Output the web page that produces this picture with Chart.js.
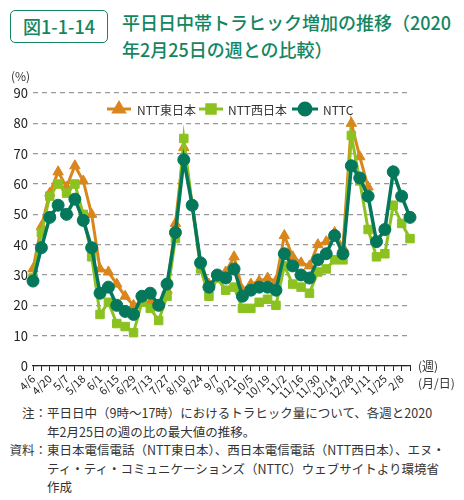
<!DOCTYPE html>
<html>
<head>
<meta charset="utf-8">
<script src="https://cdn.jsdelivr.net/npm/chart.js@4"></script>
<style>
  body { margin: 0; width: 464px; height: 500px; position: relative; background: #fff;
         font-family: "Noto Sans CJK JP", "Noto Sans", sans-serif; color: #333; overflow: hidden; }
  .fig { position: absolute; left: 10px; top: 10px; width: 96px; height: 31px; border: 1.6px solid #14855f;
         border-radius: 5px; color: #14855f; font-size: 18px; line-height: 31px; text-align: center; font-weight: 500; }
  .title { position: absolute; left: 122px; top: 9px; color: #14855f; font-size: 18px; line-height: 27px;
           font-weight: 500; white-space: nowrap; }
  #wrap { position: absolute; left: 0; top: 60px; width: 464px; height: 338px; }
  .unit { position: absolute; font-size: 12px; color: #333; }
  .notes { position: absolute; left: 0; top: 404px; font-size: 12.5px; line-height: 18.5px; color: #333; white-space: nowrap; }
  .row { display: flex; }
  .lab { width: 47px; text-align: right; flex: none; }
</style>
</head>
<body>
<div class="fig">図1-1-14</div>
<div class="title">平日日中帯トラヒック増加の推移（2020<br>年2月25日の週との比較）</div>
<div id="wrap"><canvas id="lineChart" width="464" height="338"></canvas></div>
<div class="unit" style="left:11px;top:67px;">(%)</div>
<div class="unit" style="left:418px;top:357px;">(週)</div>
<div class="unit" style="left:418px;top:374px;">(月/日)</div>
<div class="notes">
  <div class="row"><span class="lab">注：</span><span>平日日中（9時～17時）におけるトラヒック量について、各週と2020<br>年2月25日の週の比の最大値の推移。</span></div>
  <div class="row"><span class="lab">資料：</span><span>東日本電信電話（NTT東日本）、西日本電信電話（NTT西日本）、エヌ・<br>ティ・ティ・コミュニケーションズ（NTTC）ウェブサイトより環境省<br>作成</span></div>
</div>
<script>
const weeks = [
  '4/6', '4/13', '4/20', '4/27', '5/7', '5/11', '5/18', '5/25', '6/1', '6/8',
  '6/15', '6/22', '6/29', '7/6', '7/13', '7/20', '7/27', '8/3', '8/10', '8/17',
  '8/24', '8/31', '9/7', '9/14', '9/21', '9/28', '10/5', '10/12', '10/19', '10/26',
  '11/2', '11/9', '11/16', '11/23', '11/30', '12/7', '12/14', '12/21', '12/28', '1/4',
  '1/11', '1/18', '1/25', '2/1', '2/8', '2/15'
];
const nttEast = [
  32, 46, 57, 64, 59, 66, 61, 50, 32, 31,
  27, 23, 20, 21, 21, 20, 25, 47, 72, 53,
  34, 27, 29, 31, 36, 25, 27, 28, 29, 28,
  43, 36, 34, 33, 40, 41, 44, 39, 80, 69,
  59, null, null, null, null, null
];
const nttWest = [
  29, 44, 56, 60, 57, 60, 50, 36, 17, 21,
  14, 13, 11, 21, 19, 15, 23, 42, 75, 53,
  32, 23, 29, 25, 26, 19, 19, 21, 22, 20,
  33, 27, 26, 24, 31, 32, 35, 35, 76, 61,
  45, 36, 37, 53, 47, 42
];
const nttc = [
  28, 39, 49, 53, 50, 55, 48, 39, 24, 26,
  20, 18, 17, 23, 24, 20, 27, 44, 68, 53,
  34, 26, 30, 29, 32, 23, 25, 26, 26, 25,
  37, 33, 30, 29, 35, 37, 43, 37, 66, 62,
  56, 41, 45, 64, 56, 49
];
const yTicks = [0, 10, 20, 30, 40, 50, 60, 70, 80, 90];

const colEast = '#d9861c';
const colWest = '#8cc220';
const colC = '#05785c';

const series = [
  { label: 'NTT東日本', data: nttEast, color: colEast, style: 'triangle', radius: 6 },
  { label: 'NTT西日本', data: nttWest, color: colWest, style: 'rect', radius: 6 },
  { label: 'NTTC', data: nttc, color: colC, style: 'circle', radius: 6 }
];

// legend drawn inside the plot, line with marker in the middle
const legendPlugin = {
  id: 'innerLegend',
  afterDatasetsDraw(chart) {
    const c = chart.ctx;
    const y = 49;
    const items = [
      { x: 107, w: 24, tx: 137 },
      { x: 199, w: 24, tx: 228 },
      { x: 292, w: 26, tx: 323 }
    ];
    c.save();
    c.font = '12px "Noto Sans CJK JP"';
    c.textBaseline = 'middle';
    items.forEach((it, i) => {
      const s = series[i];
      c.strokeStyle = s.color;
      c.fillStyle = s.color;
      c.lineWidth = 3;
      c.beginPath();
      c.moveTo(it.x, y);
      c.lineTo(it.x + it.w, y);
      c.stroke();
      Chart.helpers.drawPoint(c, { pointStyle: s.style, radius: s.radius, borderWidth: 1 }, it.x + it.w / 2, y);
      c.fillStyle = '#333';
      c.fillText(s.label, it.tx, y + 1);
    });
    c.restore();
  }
};

new Chart(document.getElementById('lineChart').getContext('2d'), {
  type: 'line',
  data: {
    labels: weeks,
    datasets: series.map(s => ({
      label: s.label,
      data: s.data,
      borderColor: s.color,
      backgroundColor: s.color,
      borderWidth: s.style === 'circle' ? 3.5 : 3,
      pointStyle: s.style,
      pointRadius: s.radius,
      pointBorderWidth: 1,
      tension: 0,
      spanGaps: false
    })).reverse()
  },
  options: {
    responsive: false,
    animation: false,
    devicePixelRatio: 1,
    layout: { padding: { top: 33, right: 54, left: 0, bottom: 0 } },
    plugins: { legend: { display: false }, tooltip: { enabled: false } },
    scales: {
      x: {
        offset: false,
        afterFit: s => { s.height = 32; },
        grid: { drawOnChartArea: false, drawTicks: true, tickLength: 5, color: '#222', lineWidth: 1 },
        border: { color: '#222', width: 1.2 },
        ticks: {
          autoSkip: false, minRotation: 45, maxRotation: 45, padding: 1,
          color: '#222', font: { size: 11, family: '"Noto Sans CJK JP"' },
          callback: (v, i) => (i % 2 === 0 && i < 45 ? weeks[i] : '')
        }
      },
      y: {
        min: 0, max: 90,
        afterFit: s => { s.width = 33; },
        afterBuildTicks: s => { s.ticks = yTicks.map(v => ({ value: v })); },
        grid: { color: '#999', lineWidth: 1.2, drawTicks: false },
        border: { display: false, dash: [5, 4] },
        ticks: { color: '#222', padding: 5, font: { size: 13, family: '"Noto Sans CJK JP"' } }
      }
    }
  },
  plugins: [legendPlugin]
});
</script>
</body>
</html>
